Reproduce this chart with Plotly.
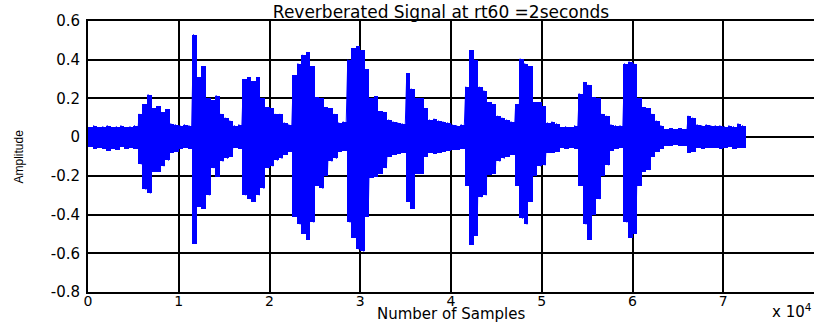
import plotly.graph_objects as go

# Envelope of the reverberated signal, read every 500 samples (0 .. 72000)
sample_step = 500
env_upper = [
    0.05, 0.06, 0.05, 0.055, 0.06, 0.05, 0.055, 0.06, 0.05, 0.055,   # 0.00-0.45 e4
    0.06, 0.12, 0.17, 0.22, 0.15, 0.16, 0.13, 0.145, 0.07, 0.065,    # 0.50-0.95
    0.06, 0.065, 0.06, 0.53, 0.31, 0.365, 0.20, 0.19, 0.215, 0.12,   # 1.00-1.45
    0.10, 0.085, 0.06, 0.065, 0.30, 0.31, 0.29, 0.31, 0.20, 0.155,   # 1.50-1.95
    0.15, 0.12, 0.12, 0.075, 0.065, 0.32, 0.38, 0.425, 0.44, 0.365,  # 2.00-2.45
    0.205, 0.20, 0.155, 0.15, 0.12, 0.075, 0.08, 0.40, 0.46, 0.47,   # 2.50-2.95
    0.45, 0.35, 0.20, 0.21, 0.135, 0.13, 0.09, 0.08, 0.075, 0.07,    # 3.00-3.45
    0.33, 0.25, 0.20, 0.20, 0.15, 0.09, 0.095, 0.085, 0.08, 0.075,   # 3.50-3.95
    0.065, 0.06, 0.065, 0.26, 0.45, 0.40, 0.26, 0.24, 0.18, 0.17,    # 4.00-4.45
    0.11, 0.10, 0.09, 0.08, 0.17, 0.405, 0.38, 0.365, 0.18, 0.18,    # 4.50-4.95
    0.16, 0.075, 0.08, 0.07, 0.05, 0.055, 0.05, 0.06, 0.225, 0.285,  # 5.00-5.45
    0.27, 0.205, 0.20, 0.12, 0.11, 0.065, 0.06, 0.06, 0.38, 0.39,    # 5.50-5.95
    0.38, 0.20, 0.155, 0.15, 0.12, 0.085, 0.06, 0.04, 0.045, 0.04,   # 6.00-6.45
    0.045, 0.04, 0.11, 0.10, 0.065, 0.06, 0.065, 0.06, 0.06, 0.06,   # 6.50-6.95
    0.055, 0.06, 0.055, 0.07, 0.06,                                  # 7.00-7.20
]
env_lower = [
    -0.05, -0.06, -0.055, -0.06, -0.07, -0.06, -0.065, -0.05, -0.06, -0.055,
    -0.06, -0.14, -0.27, -0.29, -0.18, -0.18, -0.15, -0.12, -0.08, -0.075,
    -0.06, -0.055, -0.06, -0.55, -0.36, -0.37, -0.30, -0.16, -0.205, -0.125,
    -0.11, -0.10, -0.055, -0.06, -0.30, -0.32, -0.335, -0.30, -0.265, -0.16,
    -0.15, -0.12, -0.11, -0.09, -0.075, -0.41, -0.45, -0.50, -0.53, -0.44,
    -0.25, -0.265, -0.20, -0.125, -0.11, -0.075, -0.07, -0.44, -0.52, -0.58,
    -0.59, -0.41, -0.21, -0.205, -0.19, -0.16, -0.10, -0.09, -0.085, -0.08,
    -0.335, -0.37, -0.19, -0.19, -0.10, -0.08, -0.085, -0.08, -0.075, -0.07,
    -0.065, -0.065, -0.06, -0.25, -0.555, -0.51, -0.31, -0.30, -0.195, -0.19,
    -0.125, -0.11, -0.10, -0.09, -0.25, -0.42, -0.45, -0.335, -0.20, -0.15,
    -0.145, -0.08, -0.08, -0.075, -0.055, -0.06, -0.055, -0.06, -0.25, -0.45,
    -0.53, -0.40, -0.32, -0.20, -0.145, -0.07, -0.06, -0.055, -0.44, -0.52,
    -0.50, -0.25, -0.18, -0.17, -0.10, -0.075, -0.06, -0.045, -0.045, -0.04,
    -0.045, -0.045, -0.08, -0.075, -0.055, -0.06, -0.055, -0.055, -0.055, -0.06,
    -0.055, -0.05, -0.06, -0.055, -0.055,
]

x_tick_vals = [0, 10000, 20000, 30000, 40000, 50000, 60000, 70000, 80000]
x_tick_text = ["0", "1", "2", "3", "4", "5", "6", "7", "8"]
y_tick_vals = [0.6, 0.4, 0.2, 0.0, -0.2, -0.4, -0.6, -0.8]
y_tick_text = ["0.6", "0.4", "0.2", "0", "-0.2", "-0.4", "-0.6", "-0.8"]

title_text = "Reverberated Signal at rt60 =2seconds"
x_label = "Number of Samples"
y_label = "Amplitude"

positions = [i * sample_step for i in range(len(env_upper))]

# Each 500-sample window drawn as a column from its minimum to its maximum
centers = [p + sample_step / 2 for p in positions]
spans = [u - l for u, l in zip(env_upper, env_lower)]

# Oscillating stroke: alternate max / min inside each window
xs, ys = [], []
for s, u, l in zip(positions, env_upper, env_lower):
    xs += [s + sample_step * 0.25, s + sample_step * 0.75]
    ys += [u, l]

FONT = "DejaVu Sans"
BLUE = "#0000ff"

fig = go.Figure()
fig.add_trace(go.Bar(x=centers, y=spans, base=env_lower, width=sample_step,
                     marker=dict(color=BLUE, line=dict(width=0)),
                     hoverinfo="skip", showlegend=False))
fig.add_trace(go.Scatter(x=xs, y=ys, mode="lines",
                         line=dict(color=BLUE, width=1),
                         hoverinfo="skip", showlegend=False))

axis_common = dict(showgrid=True, gridcolor="#000000", gridwidth=1.6,
                   zeroline=False, showline=True, linecolor="#000000",
                   linewidth=2, mirror=True, ticks="", automargin=False)

fig.update_xaxes(range=[0, 80000], tickmode="array", tickvals=x_tick_vals,
                 ticktext=x_tick_text, ticklabelstandoff=-5,
                 tickfont=dict(family=FONT, size=14, color="#000000"),
                 **axis_common)
fig.update_yaxes(range=[-0.8, 0.6], tickmode="array", tickvals=y_tick_vals,
                 ticktext=y_tick_text, ticklabelstandoff=3,
                 tickfont=dict(family=FONT, size=15, color="#000000"),
                 **axis_common)

fig.update_layout(
    width=814, height=324, autosize=False, bargap=0,
    margin=dict(l=88, r=0, t=21, b=32, autoexpand=False),
    paper_bgcolor="#ffffff", plot_bgcolor="#ffffff",
    title=dict(text=title_text, x=441 / 814, xanchor="center",
               yref="container", y=1 - 12 / 324, yanchor="middle",
               automargin=False,
               font=dict(family=FONT, size=17, color="#000000")),
    annotations=[
        dict(text=x_label, xref="paper", yref="paper", x=(451 - 88) / 726,
             y=-22 / 271, xanchor="center", yanchor="middle", showarrow=False,
             font=dict(family=FONT, size=15, color="#000000")),
        dict(text=y_label, xref="paper", yref="paper", x=-70 / 726, y=0.5,
             xanchor="center", yanchor="middle", textangle=-90, showarrow=False,
             font=dict(family="Liberation Sans", size=12, color="#000000")),
        dict(text="x 10<sup>4</sup>", xref="paper", yref="paper", x=1.0,
             y=-31 / 271, xanchor="right", yanchor="bottom", showarrow=False,
             font=dict(family=FONT, size=15, color="#000000")),
    ],
)

fig.write_html("out.html",
               config={"responsive": False, "displayModeBar": False},
               post_script="document.body.style.margin='0';"
                           "document.body.style.overflow='hidden';")
